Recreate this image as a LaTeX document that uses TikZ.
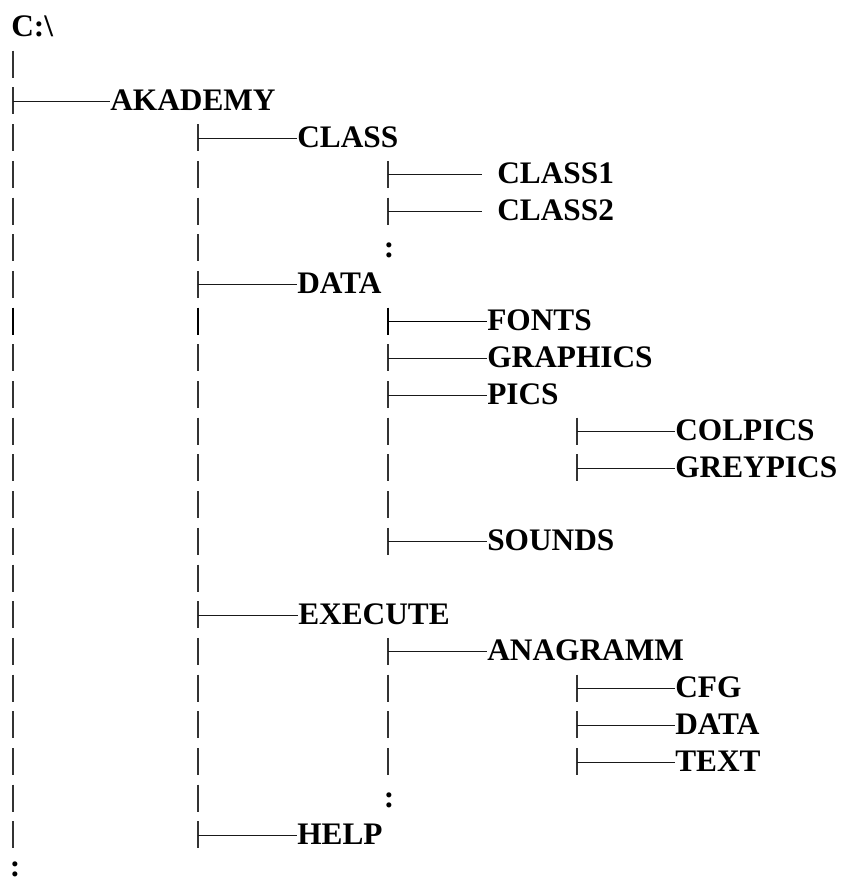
\documentclass[tikz,border=0pt]{standalone}
\usepackage{fontspec}
\setmainfont{Liberation Serif}
\usepackage{tikz}
\usetikzlibrary{calc}
\usetikzlibrary{positioning}
\newcommand{\dirfont}{\fontsize{23.5}{28}\selectfont\bfseries}
\tikzset{
    % folder names
    dirname/.style={
        anchor=base west,
        inner sep=0pt,
        font=\dirfont
    },
    % the little dots
    moredots/.style={
        anchor=base,
        inner sep=0pt,
        font=\dirfont
    },
    % the short vertical strokes
    treebar/.style={
        line width=1pt,
        black!80
    },
    % the strokes from a bar to a name
    treeline/.style={
        line width=0.75pt,
        black!90
    },
    heavy/.style={
        line width=1.7pt,
        black
    }
}
\begin{document}
\begin{tikzpicture}[x=0.75pt,y=-0.75pt]
    \useasboundingbox (0,0) rectangle (843,881);
    \node[dirname] (drive) at (11,37) {C:\textbackslash};
    % bars, column by column
    \foreach \r in {1,...,7} \draw[treebar] (13,{28+36.7*\r-14}) -- ++(0,27);
    \foreach \r in {9,...,22} \draw[treebar] (13,{28+36.7*\r-14}) -- ++(0,27);
    \foreach \r in {3,...,7} \draw[treebar] (198,{28+36.7*\r-14}) -- ++(0,27);
    \foreach \r in {9,...,22} \draw[treebar] (198,{28+36.7*\r-14}) -- ++(0,27);
    \foreach \r in {4,5,9,10,11,12,13,14,17,18,19,20} \draw[treebar] (388,{28+36.7*\r-14}) -- ++(0,27);
    \foreach \r in {11,12,18,19,20} \draw[treebar] (577,{28+36.7*\r-14}) -- ++(0,27);
    \foreach \c in {13,198,388} \draw[heavy] (\c,307.6) -- ++(0,27);

    \coordinate (p-akademy) at (13,101.4);
    \node[dirname] (akademy) at (110,110.4) {AKADEMY};
    \draw[treeline] (p-akademy) -- (akademy.west |- p-akademy);

    \coordinate (p-class) at (198,138.1);
    \node[dirname] (class) at (297,147.1) {CLASS};
    \draw[treeline] (p-class) -- (class.west |- p-class);
    \coordinate (p-classa) at (388,174.8);
    \node[dirname] (classa) at (497,183.8) {CLASS1};
    \draw[treeline] (p-classa) -- ($(classa.west |- p-classa)+(-15,0)$);
    \coordinate (p-classb) at (388,211.5);
    \node[dirname] (classb) at (497,220.5) {CLASS2};
    \draw[treeline] (p-classb) -- ($(classb.west |- p-classb)+(-15,0)$);
    \node[moredots] (dots-class) at (389,257.2) {:};

    \coordinate (p-data) at (198,284.9);
    \node[dirname] (data) at (297,293.9) {DATA};
    \draw[treeline] (p-data) -- (data.west |- p-data);
    \coordinate (p-fonts) at (388,321.6);
    \node[dirname] (fonts) at (487,330.6) {FONTS};
    \draw[heavy, line width=1.2pt] (p-fonts) -- (fonts.west |- p-fonts);
    \coordinate (p-graphics) at (388,358.3);
    \node[dirname] (graphics) at (487,367.3) {GRAPHICS};
    \draw[treeline] (p-graphics) -- (graphics.west |- p-graphics);
    \coordinate (p-pics) at (388,395);
    \node[dirname] (pics) at (487,404) {PICS};
    \draw[treeline] (p-pics) -- (pics.west |- p-pics);
    \coordinate (p-colpics) at (577,431.7);
    \node[dirname] (colpics) at (675,440.7) {COLPICS};
    \draw[treeline] (p-colpics) -- (colpics.west |- p-colpics);
    \coordinate (p-greypics) at (577,468.4);
    \node[dirname] (greypics) at (675,477.4) {GREYPICS};
    \draw[treeline] (p-greypics) -- (greypics.west |- p-greypics);
    \coordinate (p-sounds) at (388,541.8);
    \node[dirname] (sounds) at (487,550.8) {SOUNDS};
    \draw[treeline] (p-sounds) -- (sounds.west |- p-sounds);

    \coordinate (p-execute) at (198,615.2);
    \node[dirname] (execute) at (298,624.2) {EXECUTE};
    \draw[treeline] (p-execute) -- (execute.west |- p-execute);
    \coordinate (p-anagramm) at (388,651.9);
    \node[dirname] (anagramm) at (487,660.9) {ANAGRAMM};
    \draw[treeline] (p-anagramm) -- (anagramm.west |- p-anagramm);
    \coordinate (p-cfg) at (577,688.6);
    \node[dirname] (cfg) at (675,697.6) {CFG};
    \draw[treeline] (p-cfg) -- (cfg.west |- p-cfg);
    \coordinate (p-exdata) at (577,725.3);
    \node[dirname] (exdata) at (675,734.3) {DATA};
    \draw[treeline] (p-exdata) -- (exdata.west |- p-exdata);
    \coordinate (p-text) at (577,762);
    \node[dirname] (text) at (675,771) {TEXT};
    \draw[treeline] (p-text) -- (text.west |- p-text);
    \node[moredots] (dots-execute) at (389,807.7) {:};

    \coordinate (p-help) at (198,835.4);
    \node[dirname] (help) at (297,844.4) {HELP};
    \draw[treeline] (p-help) -- (help.west |- p-help);
    \node[moredots] (dots-drive) at (15,876) {:};
\end{tikzpicture}
\end{document}
